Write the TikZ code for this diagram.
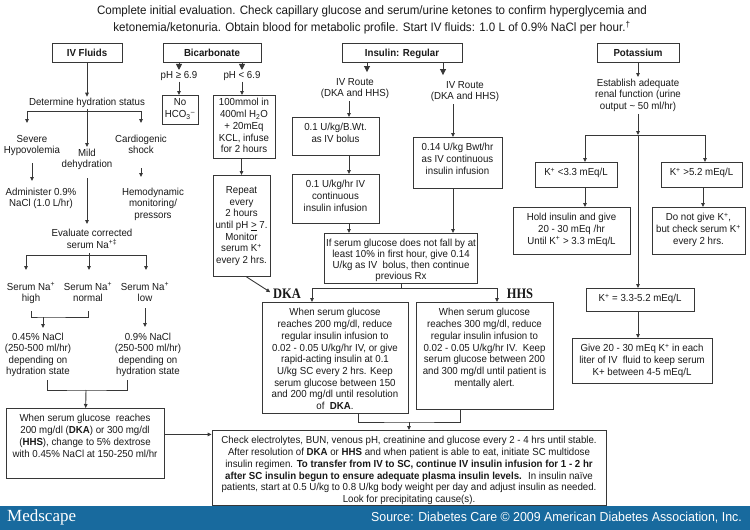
\documentclass[tikz,border=0pt]{standalone}
\usepackage{fontspec}
\setmainfont{Liberation Sans}[FakeStretch=0.95]
\newfontfamily\dkafont{Liberation Serif}[FakeStretch=0.86]
\newfontfamily\logofont{Liberation Serif}
\usetikzlibrary{arrows.meta}

\definecolor{mscblue}{RGB}{24,106,158}
\definecolor{linegray}{RGB}{55,55,55}
\definecolor{txt}{RGB}{25,25,25}

\newcommand{\boxfont}{\fontsize{10.2}{11.7}\selectfont}
% lines stacked with the first baseline as the node's base
\newcommand{\cellstack}[1]{\begin{tabular}[t]{@{}c@{}}#1\end{tabular}}

\tikzset{
  box/.style={draw=linegray, line width=0.9pt, anchor=north,
    inner xsep=2pt, inner ysep=0pt, text height=13.5pt, font=\boxfont, text=txt},
  headbox/.style={box, text height=13pt, text depth=6pt, font=\boxfont\bfseries},
  lbl/.style={anchor=base, inner sep=1pt,
    font=\fontsize{10.2}{11.5}\selectfont, text=txt},
  bigtag/.style={lbl, font=\dkafont\bfseries\fontsize{14.5}{14.5}\selectfont},
  link/.style={draw=linegray, line width=0.9pt},
  arr/.style={link, -{Triangle[length=4pt,width=3.6pt]}},
  arrbig/.style={link, -{Triangle[length=6pt,width=6pt]}},
}

\begin{document}
\begin{tikzpicture}[x=1pt,y=-1pt]
  \useasboundingbox (0,0) rectangle (750,530);

  % heading
  \node[lbl, font=\fontsize{12.2}{17}\selectfont] (intro) at (372,14.5)
    {\cellstack{Complete initial evaluation. Check capillary glucose and serum/urine ketones to confirm hyperglycemia and\\
     ketonemia/ketonuria. Obtain blood for metabolic profile. Start IV fluids: 1.0 L of 0.9\% NaCl per hour.\textsuperscript{†}}};

  \node[headbox, minimum width=70pt] (ivf) at (87,43) {IV Fluids};
  \node[headbox, minimum width=98pt] (bic) at (212,43) {Bicarbonate};
  \node[headbox, minimum width=120pt] (ins) at (402,43) {Insulin: Regular};
  \node[headbox, minimum width=82pt] (pot) at (638,43) {Potassium};

  % IV fluids
  \node[lbl] (det) at (87,105.3) {Determine hydration status};
  \node[lbl] (sev) at (32,142.3) {\cellstack{Severe\\Hypovolemia}};
  \node[lbl] (mild) at (87,156.3) {\cellstack{Mild\\dehydration}};
  \node[lbl] (card) at (141,142.3) {\cellstack{Cardiogenic\\shock}};
  \node[lbl] (adm) at (41,195.3) {\cellstack{Administer 0.9\%\\NaCl (1.0 L/hr)}};
  \node[lbl] (hemo) at (153,195.3) {\cellstack{Hemodynamic\\monitoring/\\pressors}};
  \node[lbl] (evn) at (92,236.3) {\cellstack{Evaluate corrected\\serum Na\textsuperscript{+‡}}};
  \node[lbl] (nah) at (31,290.3) {\cellstack{Serum Na\textsuperscript{+}\\high}};
  \node[lbl] (nan) at (88,290.3) {\cellstack{Serum Na\textsuperscript{+}\\normal}};
  \node[lbl] (nal) at (145,290.3) {\cellstack{Serum Na\textsuperscript{+}\\low}};
  \node[lbl] (nahalf) at (38,340.3) {\cellstack{0.45\% NaCl\\(250-500 ml/hr)\\depending on\\hydration state}};
  \node[lbl] (nafull) at (148,340.3) {\cellstack{0.9\% NaCl\\(250-500 ml/hr)\\depending on\\hydration state}};
  \node[box, minimum width=158pt, text depth=56.5pt] (dex) at (85,408)
    {\cellstack{When serum glucose~ reaches\\200 mg/dl (\textbf{DKA}) or 300 mg/dl\\(\textbf{HHS}), change to 5\% dextrose\\with 0.45\% NaCl at 150-250 ml/hr}};

  % bicarbonate
  \node[lbl] (phge) at (179,78.3) {pH ≥ 6.9};
  \node[lbl] (phlt) at (242,78.3) {pH < 6.9};
  \node[box, minimum width=36pt, text height=10.5pt, text depth=18.5pt] (nohco) at (180,95)
    {\cellstack{No\\HCO\textsubscript{3}\textsuperscript{--}}};
  \node[box, minimum width=62pt, text height=10.5pt, text depth=52.5pt] (mmol) at (244,95)
    {\cellstack{100mmol in\\400ml H\textsubscript{2}O\\+ 20mEq\\KCL, infuse\\for 2 hours}};
  \node[box, minimum width=57pt, text height=18pt, text depth=83pt] (rep) at (241.5,175)
    {\cellstack{Repeat\\every\\2 hours\\until pH \underline{>} 7.\\Monitor\\serum K\textsuperscript{+}\\every 2 hrs.}};

  % insulin
  \node[lbl] (rtl) at (355,85.3) {\cellstack{IV Route\\(DKA and HHS)}};
  \node[lbl] (rtr) at (465,88.3) {\cellstack{IV Route\\(DKA and HHS)}};
  \node[box, minimum width=87pt, text depth=24.5pt] (bolus) at (335.5,117) {\cellstack{0.1 U/kg/B.Wt.\\as IV bolus}};
  \node[box, minimum width=87pt, text depth=35.5pt] (contl) at (335.5,174) {\cellstack{0.1 U/kg/hr IV\\continuous\\insulin infusion}};
  \node[box, minimum width=89pt, text depth=37.5pt] (contr) at (457.5,137) {\cellstack{0.14 U/kg Bwt/hr\\as IV continuous\\insulin infusion}};
  \node[box, minimum width=152pt, text depth=36.5pt, font=\fontsize{10.2}{10.8}\selectfont] (fall) at (401,233)
    {\cellstack{If serum glucose does not fall by at\\least 10\% in first hour, give 0.14\\U/kg as IV~ bolus, then continue\\previous Rx}};
  \node[bigtag] (dkal) at (287,298) {DKA};
  \node[bigtag] (hhsl) at (520,298) {HHS};
  \node[box, minimum width=146pt, text depth=97.5pt] (dka) at (335,302)
    {\cellstack{When serum glucose\\reaches 200 mg/dl, reduce\\regular insulin infusion to\\0.02 - 0.05 U/kg/hr IV, or give\\rapid-acting insulin at 0.1\\U/kg SC every 2 hrs. Keep\\serum glucose between 150\\and 200 mg/dl until resolution\\of~ \textbf{DKA}.}};
  \node[box, minimum width=137pt, text depth=93.5pt] (hhs) at (484.5,302)
    {\cellstack{When serum glucose\\reaches 300 mg/dl, reduce\\regular insulin infusion to\\0.02 - 0.05 U/kg/hr IV.~ Keep\\serum glucose between 200\\and 300 mg/dl until patient is\\mentally alert.}};
  \node[box, minimum width=394pt, text depth=61.5pt] (chk) at (409,430)
    {\cellstack{Check electrolytes, BUN, venous pH, creatinine and glucose every 2 - 4 hrs until stable.\\
     After resolution of \textbf{DKA} or \textbf{HHS} and when patient is able to eat, initiate SC multidose\\
     insulin regimen. \textbf{To transfer from IV to SC, continue IV insulin infusion for 1 - 2 hr}\\
     \textbf{after SC insulin begun to ensure adequate plasma insulin levels.}~ In insulin naïve\\
     patients, start at 0.5 U/kg to 0.8 U/kg body weight per day and adjust insulin as needed.\\
     Look for precipitating cause(s).}};

  % potassium
  \node[lbl] (est) at (638,86.3) {\cellstack{Establish adequate\\renal function (urine\\output \textasciitilde{} 50 ml/hr)}};
  \node[box, minimum width=82pt, text depth=11.5pt] (klow) at (576,162) {K\textsuperscript{+} <3.3 mEq/L};
  \node[box, minimum width=81pt, text depth=11.5pt] (khigh) at (701.5,162) {K\textsuperscript{+} >5.2 mEq/L};
  \node[box, minimum width=117pt, text depth=33.5pt] (hold) at (571.5,207)
    {\cellstack{Hold insulin and give\\20 - 30 mEq /hr\\Until K\textsuperscript{+} > 3.3 mEq/L}};
  \node[box, minimum width=93pt, text depth=33.5pt] (nogive) at (698.5,207)
    {\cellstack{Do not give K\textsuperscript{+},\\but check serum K\textsuperscript{+}\\every 2 hrs.}};
  \node[box, minimum width=108pt, text depth=9.5pt] (kmid) at (640,288) {K\textsuperscript{+} = 3.3-5.2 mEq/L};
  \node[box, minimum width=140pt, text depth=31.5pt] (give) at (642,338)
    {\cellstack{Give 20 - 30 mEq K\textsuperscript{+} in each\\liter of IV~ fluid to keep serum\\K+ between 4-5 mEq/L}};

  % connectors: IV fluids
  \coordinate (hyd) at (87,111);
  \coordinate (hydl) at (27,111);
  \coordinate (hydr) at (141,111);
  \draw[arr] (ivf) -- (det);
  \draw[link] (det.south) -- (hyd);
  \draw[link] (hydl) -- (hydr);
  \draw[arr, shorten >=10pt] (hydl) -- (hydl |- sev.north);
  \draw[arr] (hyd) -- (mild);
  \draw[arr, shorten >=10pt] (hydr) -- (hydr |- card.north);
  \draw[arr, shorten <=5pt, shorten >=5pt] (sev.south) -- (sev.south |- adm.north);
  \draw[arr, shorten <=10pt, shorten >=9pt] (card.south) -- (card.south |- hemo.north);
  \draw[arr, shorten <=6pt, shorten >=3pt] (mild) -- (mild |- evn.north);
  \coordinate (nabr) at (89,255);
  \coordinate (nabrl) at (26,255);
  \coordinate (nabrr) at (146,255);
  \draw[link] (evn.south -| nabr) -- (nabr);
  \draw[link] (nabrl) -- (nabrr);
  \draw[arr, shorten >=11pt] (nabrl) -- (nabrl |- nah.north);
  \draw[arr, shorten >=11pt] (nabr) -- (nabr |- nan.north);
  \draw[arr, shorten >=11pt] (nabrr) -- (nabrr |- nal.north);
  \coordinate (hnm) at (43,317);
  \draw[link] ([yshift=-5pt]nah.south) |- (hnm) -| ([yshift=-5pt]nan.south);
  \draw[arr, shorten >=3pt] (hnm) -- (hnm |- nahalf.north);
  \draw[arr, shorten <=2pt, shorten >=4pt] (nal.south) -- (nal.south |- nafull.north);
  \coordinate (nbl) at (47,380);
  \coordinate (nbr) at (127,380);
  \coordinate (dexin) at (86,390);
  \draw[link] (nbl) |- (dexin) -| (nbr);
  \draw[arr] (dexin) -- (dex);
  \draw[arr] ([yshift=9pt]dex.east) -- ([yshift=9pt]dex.east -| chk.west);

  % connectors: bicarbonate
  \draw[arrbig] (bic.south -| phge) -- (phge);
  \draw[arrbig] (bic.south -| phlt) -- (phlt);
  \draw[arr] (phge) -- (phge |- nohco.north);
  \draw[arr] (phlt) -- (phlt |- mmol.north);
  \draw[arr] (rep |- mmol.south) -- (rep);
  \draw[arr, shorten >=2pt] ([xshift=5pt]rep.south) -- (dkal.west);

  % connectors: insulin
  \draw[arrbig, shorten >=4pt] ([xshift=-35pt]ins.south) -- ([xshift=-35pt]ins.south |- rtl.north);
  \draw[arrbig, shorten >=4pt] ([xshift=41pt]ins.south) -- ([xshift=41pt]ins.south |- rtr.north);
  \draw[arr] ([xshift=13.5pt]bolus.north |- rtl.south) -- ([xshift=13.5pt]bolus.north);
  \draw[arr] ([xshift=13.5pt]bolus.south) -- ([xshift=13.5pt]contl.north);
  \draw[arr] ([xshift=13.5pt]contl.south) -- ([xshift=13.5pt]contl.south |- fall.north);
  \draw[arr] ([xshift=-4.5pt]contr.north |- rtr.south) -- ([xshift=-4.5pt]contr.north);
  \draw[arr] ([xshift=-4.5pt]contr.south) -- ([xshift=-4.5pt]contr.south |- fall.north);
  \coordinate (split) at ([yshift=-5pt]fall.south);
  \draw[link] (fall.south) -- (split);
  \draw[arr] (split) -| ([xshift=-23pt]dka.north);
  \draw[arr] (split) -| ([xshift=12.5pt]hhs.north);
  \coordinate (merge) at ([yshift=8pt]chk.north);
  \draw[link] ([xshift=23pt]dka.south) |- (merge) -| ([xshift=-24.5pt]hhs.south);
  \draw[arr] (merge) -- (chk);

  % connectors: potassium
  \coordinate (kspl) at (638,135);
  \draw[arr] (pot) -- (est);
  \draw[arr] (est) -- (kspl);
  \draw[arr] (kspl) -| ([xshift=9pt]klow.north);
  \draw[arr] (kspl) -| ([xshift=3.5pt]khigh.north);
  \draw[arr] (kspl) -- (kspl |- kmid.north);
  \draw[arr] ([xshift=9pt]klow.south) -- ([xshift=9pt]klow.south |- hold.north);
  \draw[arr] ([xshift=1.5pt]khigh.south) -- ([xshift=1.5pt]khigh.south |- nogive.north);
  \draw[arr] (kspl |- kmid.south) -- (kspl |- give.north);

  % banner
  \fill[mscblue] (0,506) rectangle (750,530);
  \node[anchor=west, text=white, inner sep=0pt, font=\logofont\fontsize{17}{17}\selectfont] (logo) at (7,517) {Medscape};
  \node[anchor=east, text=white, inner sep=0pt, font=\fontsize{13}{13}\selectfont] (src) at (742,518)
    {Source: Diabetes Care © 2009 American Diabetes Association, Inc.};
\end{tikzpicture}
\end{document}
